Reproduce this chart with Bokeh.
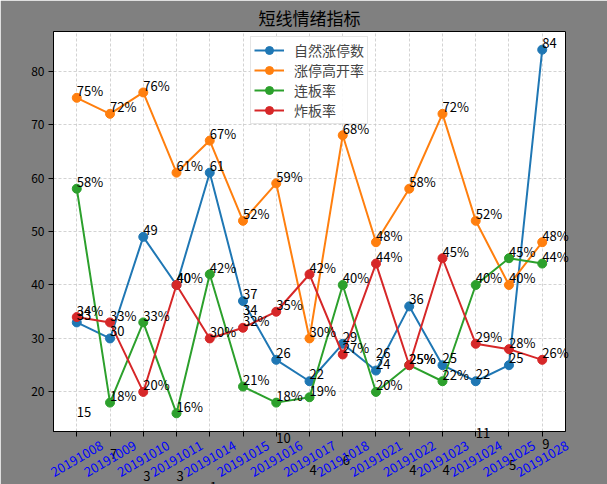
import math
from bokeh.plotting import figure
from bokeh.models import Range1d, FixedTicker, ColumnDataSource
from bokeh.core.properties import value
from bokeh.embed import file_html
from bokeh.resources import INLINE

dates = ["20191008", "20191009", "20191010", "20191011", "20191014", "20191015",
         "20191016", "20191017", "20191018", "20191021", "20191022", "20191023",
         "20191024", "20191025", "20191028"]
zt_count = [33, 30, 49, 40, 61, 37, 26, 22, 29, 24, 36, 25, 22, 25, 84]
gk_rate = [75, 72, 76, 61, 67, 52, 59, 30, 68, 48, 58, 72, 52, 40, 48]
lb_rate = [58, 18, 33, 16, 42, 21, 18, 19, 40, 20, 25, 22, 40, 45, 44]
zb_rate = [34, 33, 20, 40, 30, 32, 35, 42, 27, 44, 25, 45, 29, 28, 26]
extra = [15, 7, 3, 3, 1, 34, 10, 4, 6, 26, 4, 4, 11, 5, 9]

series = [
    ("自然涨停数", zt_count, "#1f77b4", ""),
    ("涨停高开率", gk_rate, "#ff7f0e", "%"),
    ("连板率", lb_rate, "#2ca02c", "%"),
    ("炸板率", zb_rate, "#d62728", "%"),
]

FONT = "Noto Sans CJK SC"
xs = list(range(len(dates)))
allv = zt_count + gk_rate + lb_rate + zb_rate
lo, hi = min(allv), max(allv)
pad = (hi - lo) * 0.05
xpad = (len(dates) - 1) * 0.05
ylo = lo - pad

p = figure(width=607, height=484, output_backend="svg", toolbar_location=None,
           x_range=Range1d(-xpad, len(dates) - 1 + xpad),
           y_range=Range1d(ylo, hi + pad),
           min_border_left=53, min_border_right=42, min_border_top=31, min_border_bottom=53,
           border_fill_color="#808080", background_fill_color="white",
           title="短线情绪指标")
p.title.align = "center"
p.title.vertical_align = "top"
p.title.text_font = FONT
p.title.text_font_size = "17px"
p.title.text_font_style = "normal"
p.title.text_color = "black"
p.title.standoff = 0

p.outline_line_color = "black"
p.outline_line_width = 1

p.xaxis.ticker = FixedTicker(ticks=xs)
p.xaxis.major_label_overrides = {i: "" for i in xs}
p.xaxis.major_label_text_color = None
p.xaxis.major_label_text_font_size = "0px"
p.yaxis.ticker = FixedTicker(ticks=[20, 30, 40, 50, 60, 70, 80])
for ax in (p.xaxis[0], p.yaxis[0]):
    ax.axis_line_color = "black"
    ax.major_tick_line_color = "black"
    ax.major_tick_out = 5
    ax.major_tick_in = 0
    ax.minor_tick_line_color = None
p.yaxis.major_label_text_font = FONT
p.yaxis.major_label_text_font_size = "12px"
p.yaxis.major_label_text_color = "black"
p.yaxis.major_label_standoff = 4

for g in (p.xgrid[0], p.ygrid[0]):
    g.grid_line_color = "#c8c8c8"
    g.grid_line_dash = "3 2"
    g.grid_line_width = 0.8

for name, vals, color, suf in series:
    p.line(xs, vals, line_color=color, line_width=2, legend_label=name)
    p.scatter(xs, vals, marker="circle", size=9, fill_color=color, line_color=color,
              legend_label=name)

# value labels (unclipped overlay level, like matplotlib texts)
for name, vals, color, suf in series:
    src = ColumnDataSource(dict(x=xs, y=vals, t=[f"{v}{suf}" for v in vals]))
    p.text(x="x", y="y", text="t", source=src, level="overlay", y_offset=-7,
           text_font=value(FONT), text_font_size=value("13px"), text_color="black",
           text_align="left", text_baseline="alphabetic")

# stray count annotations
src_e = ColumnDataSource(dict(x=xs, y=extra, t=[str(v) for v in extra]))
p.text(x="x", y="y", text="t", source=src_e, level="overlay", y_offset=-7,
       text_font=value(FONT), text_font_size=value("13px"), text_color="black",
       text_align="left", text_baseline="alphabetic")

# rotated date tick labels
src_d = ColumnDataSource(dict(x=xs, y=[ylo] * len(xs), t=dates))
p.text(x="x", y="y", text="t", source=src_d, level="overlay",
       angle=30, angle_units="deg", y_offset=27,
       text_font=value(FONT), text_font_size=value("13px"), text_color="blue",
       text_align="center", text_baseline="middle")

leg = p.legend[0]
leg.location = "top_center"
leg.label_text_font = FONT
leg.label_text_font_size = "14px"
leg.glyph_width = 30
leg.glyph_height = 20
leg.label_height = 14
leg.label_standoff = 10
leg.spacing = 0
leg.padding = 3
leg.margin = 5
leg.border_line_color = "#cccccc"
leg.background_fill_alpha = 0.85

open("out.html", "w").write(file_html(p, INLINE))
